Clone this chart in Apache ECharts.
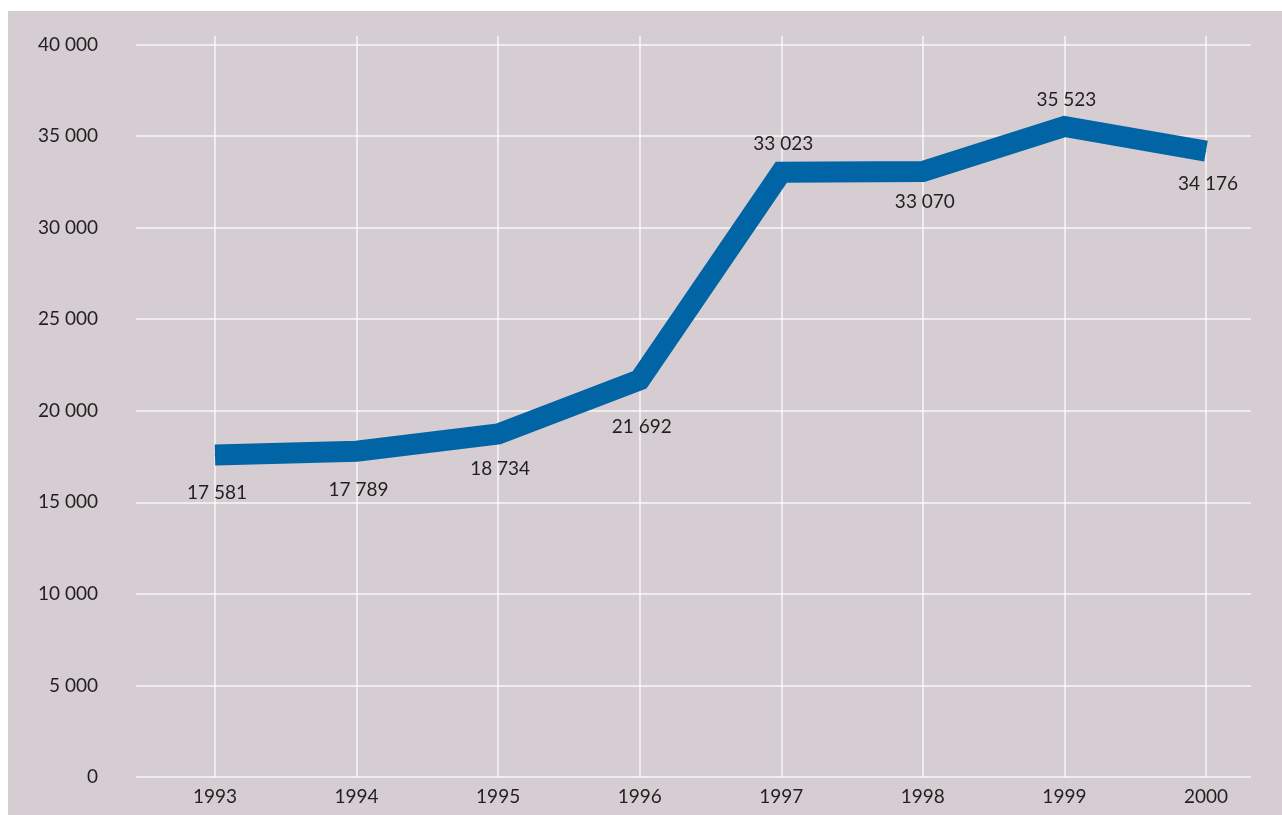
<!DOCTYPE html>
<html>
<head>
<meta charset="utf-8">
<script src="https://cdn.jsdelivr.net/npm/echarts@6/dist/echarts.min.js"></script>
<style>
  html, body { margin: 0; padding: 0; background: #ffffff; }
  #chart { position: absolute; left: 8px; top: 11px; width: 1274px; height: 804px; }
</style>
</head>
<body>
<div id="chart"></div>
<script>
// Annual totals, 1993–2000
const years = [1993, 1994, 1995, 1996, 1997, 1998, 1999, 2000];
const totals = [17581, 17789, 18734, 21692, 33023, 33070, 35523, 34176];
const yTicks = [0, 5000, 10000, 15000, 20000, 25000, 30000, 35000, 40000];

// Where each value label sits relative to the line
const labelSide = ['bottom', 'bottom', 'bottom', 'bottom', 'top', 'bottom', 'top', 'bottom'];
const labelGap = [28, 29, 25, 37, 18, 20, 17, 23];

const fmt = v => String(v).replace(/\B(?=(\d{3})+(?!\d))/g, ' ');

const FONT = 'Lato';
const FONT_SIZE = 19;
const TEXT = '#231f20';
const GRIDLINE = 'rgba(255,255,255,0.82)';
const X_MIN = 1992.442, X_MAX = 2000.318;

const chart = echarts.init(document.getElementById('chart'), null, { renderer: 'canvas' });

chart.setOption({
  backgroundColor: '#d6cdd2',
  animation: false,
  textStyle: { fontFamily: FONT, color: TEXT },
  grid: [
    { left: 128, right: 31, top: 33.5, bottom: 38, containLabel: false },
    { left: 128, right: 31, top: 25, bottom: 38, containLabel: false }
  ],
  xAxis: [
    {
      gridIndex: 0, type: 'value', min: X_MIN, max: X_MAX,
      axisLine: { show: false }, axisTick: { show: false, customValues: years },
      splitLine: { show: false },
      axisLabel: {
        customValues: years, margin: 10, fontSize: FONT_SIZE, color: TEXT, fontFamily: FONT,
        formatter: v => String(Math.round(v))
      }
    },
    {
      gridIndex: 1, type: 'value', min: X_MIN, max: X_MAX,
      axisLine: { show: false }, axisLabel: { show: false },
      axisTick: { show: false, customValues: years },
      splitLine: { show: true, lineStyle: { color: GRIDLINE, width: 1.5 } }
    }
  ],
  yAxis: [
    {
      gridIndex: 0, type: 'value', min: 0, max: 40000, interval: 5000,
      axisLine: { show: false }, axisTick: { show: false },
      splitLine: { show: true, lineStyle: { color: GRIDLINE, width: 1.5 } },
      axisLabel: {
        customValues: yTicks,
        margin: 38, fontSize: FONT_SIZE, color: TEXT, fontFamily: FONT,
        formatter: v => fmt(v)
      }
    },
    {
      gridIndex: 1, type: 'value', min: 0, max: 1, show: false
    }
  ],
  series: [
    {
      type: 'line',
      xAxisIndex: 0, yAxisIndex: 0,
      data: years.map((y, i) => ({
        value: [y, totals[i]],
        label: { position: labelSide[i], distance: labelGap[i] }
      })),
      symbol: 'circle', symbolSize: 1, showSymbol: true,
      itemStyle: { color: '#0064a5' },
      lineStyle: { color: '#0064a5', width: 21, cap: 'butt', join: 'miter' },
      label: {
        show: true, fontSize: FONT_SIZE, color: TEXT, fontFamily: FONT,
        offset: [2, 0],
        formatter: p => fmt(p.value[1])
      },
      emphasis: { disabled: true },
      z: 5
    }
  ]
});
</script>
</body>
</html>
